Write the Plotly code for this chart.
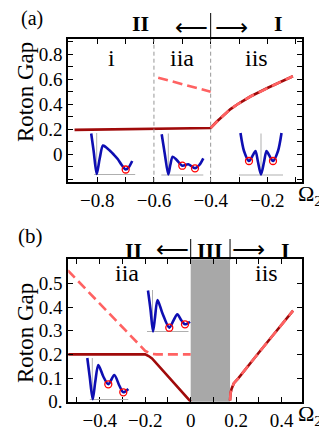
import plotly.graph_objects as go

W, H = 327, 442
OFF = 8  # the page body keeps an 8px margin, so the figure is shifted by that much
SERIF = "Liberation Serif"
DARK = "rgb(160,10,10)"
LIGHT = "rgb(255,98,98)"
BLUE = "rgb(14,14,178)"
GREY = "rgb(175,175,175)"

# ---------------- panel (a) ----------------
a_omega_flat = [-0.88, -0.4]
a_gap_flat = [0.195, 0.21]
a_omega_iis = [-0.4, -0.38, -0.36, -0.33, -0.3, -0.26, -0.2, -0.15, -0.11]
a_gap_iis = [0.21, 0.258, 0.30, 0.361, 0.408, 0.462, 0.53, 0.583, 0.624]
a_omega_iia = [-0.585, -0.4]
a_gap_iia = [0.613, 0.50]
a_bounds = [-0.6, -0.4]
a_xticks = [-0.9, -0.8, -0.7, -0.6, -0.5, -0.4, -0.3, -0.2, -0.1]
a_xlabels = [" ", "\u22120.8", " ", "\u22120.6", " ", "\u22120.4", " ", "\u22120.2", " "]
a_yticks = [-0.2, -0.1, 0, 0.1, 0.2, 0.3, 0.4, 0.5, 0.6, 0.7, 0.8, 0.9]
a_ylabels = [" ", " ", "0", " ", "0.2", " ", "0.4", " ", "0.6", " ", "0.8", " "]

# ---------------- panel (b) ----------------
b_omega_solid = [-0.54, -0.2, -0.185, -0.17, 0.0]
b_gap_solid = [0.2, 0.2, 0.193, 0.183, 0.0]
b_omega_dash = [-0.54, -0.2, -0.175, -0.15, 0.0]
b_gap_dash = [0.555, 0.215, 0.203, 0.2, 0.2]
b_omega_iis = [0.173, 0.175, 0.18, 0.19, 0.21, 0.25, 0.3, 0.35, 0.4, 0.45]
b_gap_iis = [0.005, 0.035, 0.055, 0.078, 0.1, 0.15, 0.208, 0.267, 0.326, 0.385]
b_band = [0.0, 0.173]
b_xticks = [-0.5, -0.4, -0.3, -0.2, -0.1, 0, 0.1, 0.2, 0.3, 0.4]
b_xlabels = [" ", "\u22120.4", " ", "\u22120.2", " ", "0", " ", "0.2", " ", "0.4"]
b_yticks = [0, 0.1, 0.2, 0.3, 0.4, 0.5]
b_ylabels = ["0.", "0.1", "0.2", "0.3", "0.4", "0.5"]

# ---------------- inset dispersion curves ----------------
ai_k = [-0.55, -0.3, 0.0, 0.3, 0.62, 0.9, 1.3, 1.7, 2.1, 2.5, 2.9, 3.2, 3.55]
ai_e = [4.1, 2.3, 0.05, 1.6, 2.9, 2.75, 2.4, 2.0, 1.55, 0.95, 0.5, 0.72, 1.35]
ai_min_k, ai_min_e = [2.9], [0.5]

aiia_k = [-0.66, -0.35, 0.0, 0.2, 0.44, 0.84, 1.4, 2.0, 2.67, 3.1, 3.5]
aiia_e = [4.07, 2.1, 0.05, 1.0, 1.83, 1.5, 0.93, 1.07, 0.67, 1.0, 1.67]
aiia_min_k, aiia_min_e = [1.4, 2.67], [0.93, 0.67]

aiis_k = [-2.05, -1.7, -1.2, -0.8, -0.55, -0.3, 0.0, 0.3, 0.55, 0.8, 1.2, 1.7, 2.05]
aiis_e = [4.2, 2.4, 1.4, 2.0, 2.4, 1.3, 0.05, 1.3, 2.4, 2.0, 1.4, 2.4, 4.2]
aiis_min_k, aiis_min_e = [-1.2, 1.2], [1.4, 1.4]

bup_k = [-0.45, -0.2, 0.05, 0.25, 0.5, 1.0, 1.68, 2.1, 2.48, 2.9, 3.25, 3.75]
bup_e = [4.1, 2.2, 0.0, 1.4, 3.15, 1.8, 0.38, 1.1, 1.72, 1.1, 0.72, 0.98]
bup_min_k, bup_min_e = [1.68, 3.25], [0.38, 0.72]

blo_k = [-0.5, -0.25, 0.04, 0.3, 0.6, 1.1, 1.6, 2.2, 2.7, 3.1, 3.6]
blo_e = [4.15, 2.2, 0.02, 1.8, 3.45, 2.3, 1.52, 2.45, 1.4, 0.72, 1.05]
blo_min_k, blo_min_e = [1.6, 3.1], [1.52, 0.72]

FW, FH = W - OFF, H - OFF


def px_x(x):
    return (x - OFF) / FW


def px_y(y):
    return 1 - (y - OFF) / FH


fig = go.Figure()

# panel (a) curves
fig.add_trace(go.Scatter(x=a_omega_flat + a_omega_iis[1:], y=a_gap_flat + a_gap_iis[1:],
                         mode="lines", line=dict(color=DARK, width=2.6),
                         xaxis="x", yaxis="y", showlegend=False))
fig.add_trace(go.Scatter(x=a_omega_iia + [None] + a_omega_iis, y=a_gap_iia + [None] + a_gap_iis,
                         mode="lines", line=dict(color=LIGHT, width=2.6, dash="10px,5px"),
                         xaxis="x", yaxis="y", showlegend=False))

# panel (b) curves
fig.add_trace(go.Scatter(x=b_omega_solid + [None] + b_omega_iis, y=b_gap_solid + [None] + b_gap_iis,
                         mode="lines", line=dict(color=DARK, width=2.6),
                         xaxis="x2", yaxis="y2", showlegend=False))
fig.add_trace(go.Scatter(x=b_omega_dash + [None] + b_omega_iis, y=b_gap_dash + [None] + b_gap_iis,
                         mode="lines", line=dict(color=LIGHT, width=2.6, dash="10px,5px"),
                         xaxis="x2", yaxis="y2", showlegend=False))

# insets: (curve k, curve E, minima k, minima E, baseline extent, anchor px)
insets = [
    (ai_k, ai_e, ai_min_k, ai_min_e, [-0.25, 3.85], (96.7, 174.5)),
    (aiia_k, aiia_e, aiia_min_k, aiia_min_e, [-0.7, 3.5], (168.3, 175.0)),
    (aiis_k, aiis_e, aiis_min_k, aiis_min_e, [-2.2, 2.2], (261.0, 175.0)),
    (bup_k, bup_e, bup_min_k, bup_min_e, [-0.55, 3.6], (152.5, 331.5)),
    (blo_k, blo_e, blo_min_k, blo_min_e, [-0.25, 3.6], (92.3, 399.5)),
]

layout_extra = {}
for i, (k, e, mk, me, base, (cx, cy)) in enumerate(insets):
    n = i + 3
    xa, ya = f"x{n}", f"y{n}"
    fig.add_trace(go.Scatter(x=base, y=[0, 0], mode="lines", line=dict(color=GREY, width=1),
                             xaxis=xa, yaxis=ya, showlegend=False))
    fig.add_trace(go.Scatter(x=[0, 0], y=[0, 4.15], mode="lines", line=dict(color=GREY, width=1),
                             xaxis=xa, yaxis=ya, showlegend=False))
    fig.add_trace(go.Scatter(x=k, y=e, mode="lines", line=dict(color=BLUE, width=2.6, shape="spline", smoothing=0.8),
                             xaxis=xa, yaxis=ya, showlegend=False))
    fig.add_trace(go.Scatter(x=mk, y=me, mode="markers",
                             marker=dict(symbol="circle-open", size=7, color="red", line=dict(width=1.3)),
                             xaxis=xa, yaxis=ya, showlegend=False))
    # 10 px per unit in both directions
    layout_extra[f"xaxis{n}"] = dict(domain=[px_x(cx - 30), px_x(cx + 50)], range=[-3, 5],
                                     anchor=ya, visible=False, fixedrange=True, automargin=False)
    layout_extra[f"yaxis{n}"] = dict(domain=[px_y(cy + 10), px_y(cy - 50)], range=[-1, 5],
                                     anchor=xa, visible=False, fixedrange=True, automargin=False)

tick_font = dict(family=SERIF, size=19, color="black")
frame = dict(showline=True, linecolor="black", linewidth=2, mirror="ticks", ticks="inside",
             ticklen=5, tickwidth=1, tickcolor="black", showgrid=False, zeroline=False,
             tickfont=tick_font, tickmode="array", fixedrange=True, automargin=False)

x_dom = [px_x(68.3), px_x(301.7)]
fig.update_layout(
    template="none",
    width=FW, height=FH,
    margin=dict(l=0, r=0, t=0, b=0, pad=0),
    paper_bgcolor="white", plot_bgcolor="rgba(0,0,0,0)",
    xaxis=dict(frame, domain=x_dom, range=[-0.902, -0.079], anchor="y",
               tickvals=a_xticks, ticktext=a_xlabels),
    yaxis=dict(frame, domain=[px_y(181.7), px_y(39.3)], range=[-0.22, 0.92], anchor="x",
               tickvals=a_yticks, ticktext=a_ylabels),
    xaxis2=dict(frame, domain=x_dom, range=[-0.538, 0.488], anchor="y2",
                tickvals=b_xticks, ticktext=b_xlabels),
    yaxis2=dict(frame, domain=[px_y(401.7), px_y(259.3)], range=[0, 0.602], anchor="x2",
                tickvals=b_yticks, ticktext=b_ylabels),
    **layout_extra,
)

shapes = []
for xb in a_bounds:
    shapes.append(dict(type="line", xref="x", yref="y domain", x0=xb, x1=xb, y0=0, y1=1,
                       line=dict(color="rgb(150,150,150)", width=1, dash="4px,3px")))
shapes.append(dict(type="rect", xref="x2", yref="y2 domain", x0=b_band[0], x1=b_band[1], y0=0, y1=1,
                   fillcolor="rgb(168,168,168)", line=dict(width=0), layer="below"))
# phase-boundary bars above the frames
shapes.append(dict(type="line", xref="x", yref="paper", x0=a_bounds[1], x1=a_bounds[1],
                   y0=px_y(39.3), y1=px_y(13), line=dict(color="black", width=1)))
for xb in b_band:
    shapes.append(dict(type="line", xref="x2", yref="paper", x0=xb, x1=xb,
                       y0=px_y(259.3), y1=px_y(239), line=dict(color="black", width=1)))
fig.update_layout(shapes=shapes)

ann = []


def text(x, y, s, size=22, bold=False, xref="paper", yref="paper", angle=0, family=SERIF, xanchor="center"):
    ann.append(dict(x=x, y=y, xref=xref, yref=yref, text=f"<b>{s}</b>" if bold else s,
                    showarrow=False, textangle=angle, xanchor=xanchor, yanchor="middle",
                    font=dict(family=family, size=size, color="black")))


# panel (a) labels
text(px_x(32), px_y(18.5), "(a)", 20)
text(px_x(140), px_y(24), "II", 22, bold=True)
text(px_x(278), px_y(24), "I", 22, bold=True)
text(px_x(191), px_y(27), "\u27f5", 23, family="DejaVu Sans")
text(px_x(231), px_y(27), "\u27f6", 23, family="DejaVu Sans")
text(-0.749, 0.77, "i", 24, xref="x", yref="y")
text(-0.502, 0.77, "iia", 24, xref="x", yref="y")
text(-0.238, 0.77, "iis", 24, xref="x", yref="y")
text(px_x(25), px_y(92), "Roton Gap", 23, angle=-90)
text(px_x(296), px_y(195), "\u03a9<sub>2</sub>", 22, xanchor="left")

# panel (b) labels
text(px_x(30), px_y(236), "(b)", 21)
text(px_x(133), px_y(250), "II", 22, bold=True)
text(px_x(210), px_y(250), "III", 22, bold=True)
text(px_x(285), px_y(250), "I", 22, bold=True)
text(px_x(172), px_y(249), "\u27f5", 23, family="DejaVu Sans")
text(px_x(249), px_y(249), "\u27f6", 23, family="DejaVu Sans")
text(-0.281, 0.543, "iia", 24, xref="x2", yref="y2")
text(0.334, 0.543, "iis", 24, xref="x2", yref="y2")
text(px_x(25), px_y(333), "Roton Gap", 23, angle=-90)
text(px_x(296), px_y(415), "\u03a9<sub>2</sub>", 22, xanchor="left")

fig.update_layout(annotations=ann)

fig.write_html("out.html")
